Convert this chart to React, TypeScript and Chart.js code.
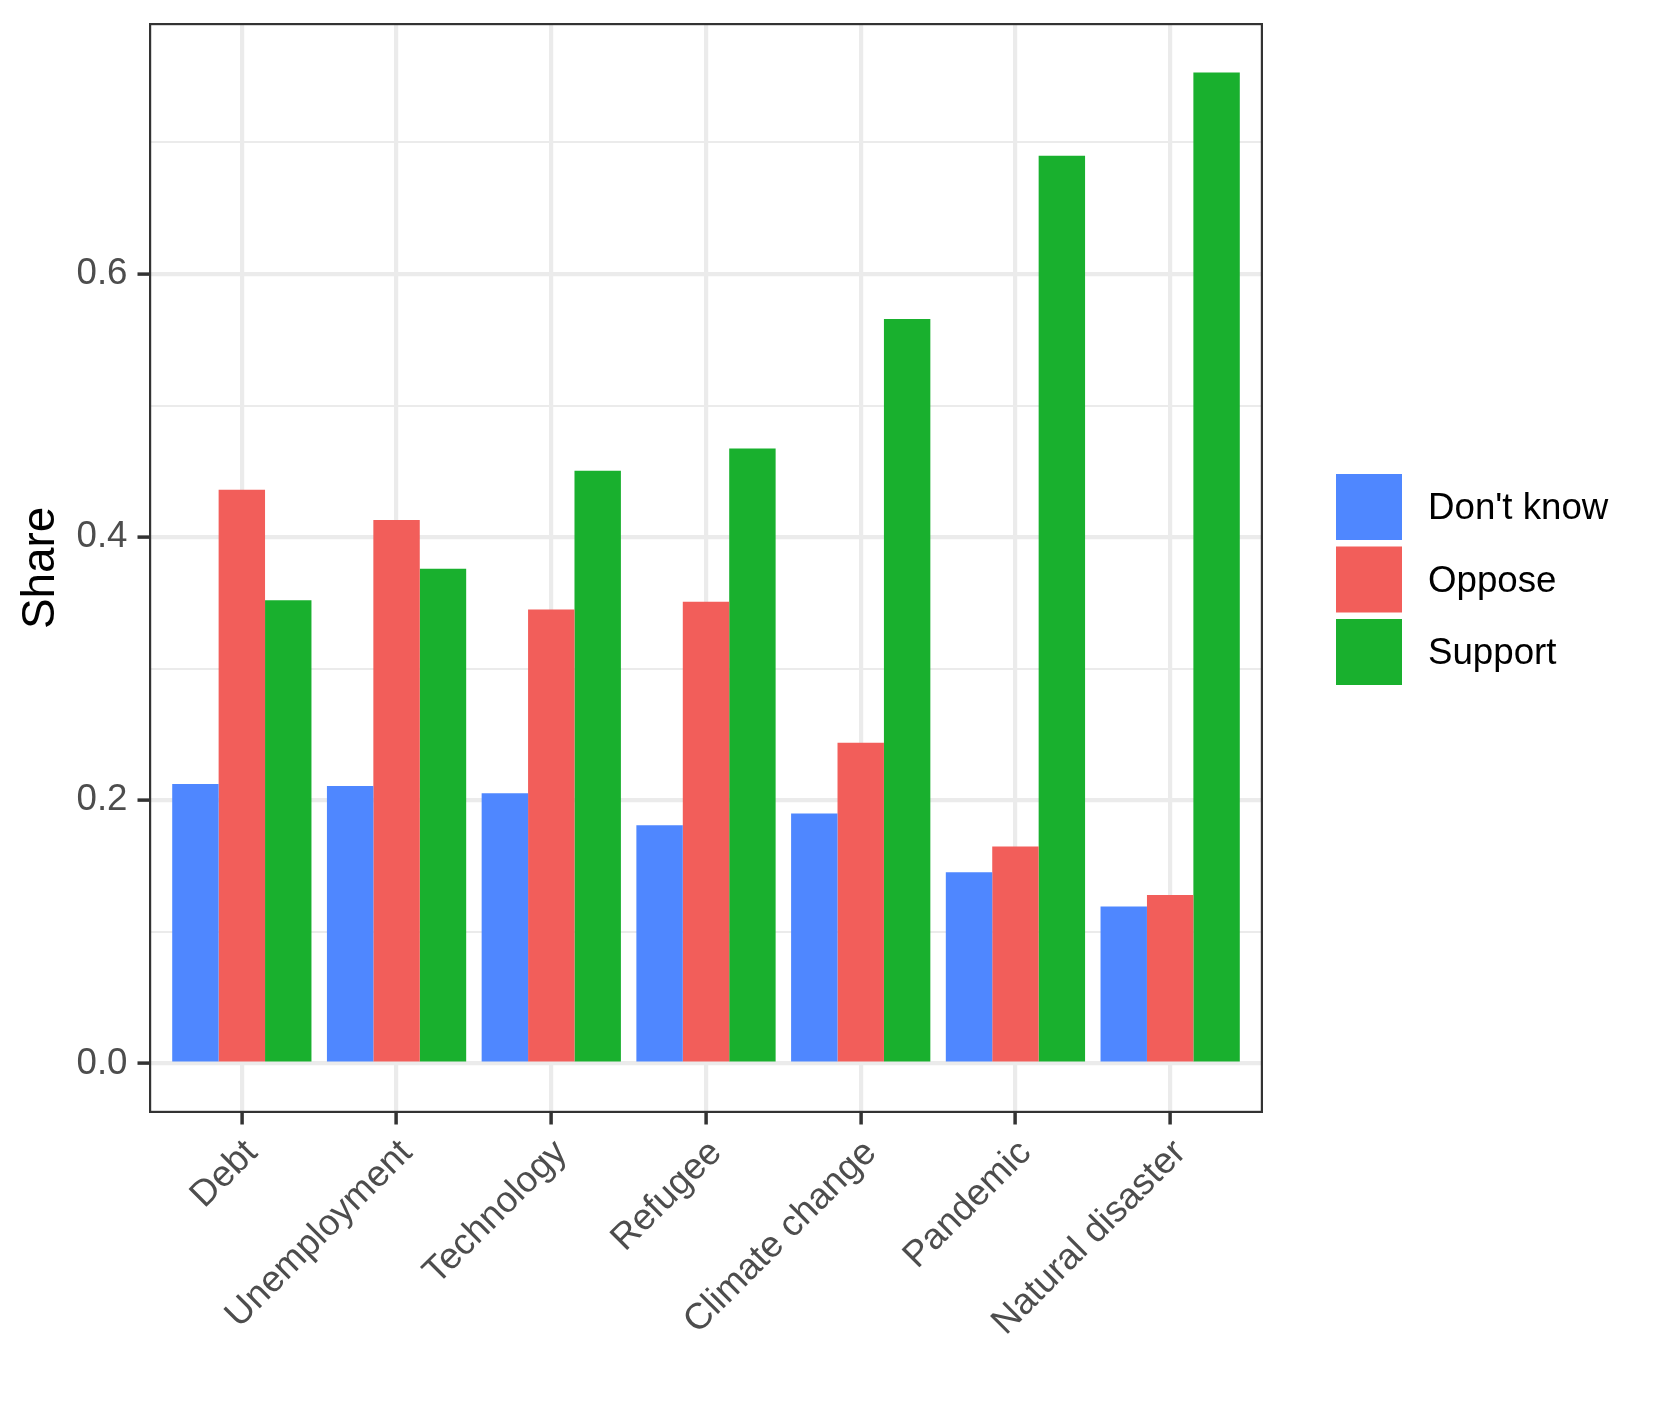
import React, { useEffect, useRef } from "react";
import { Chart, registerables } from "chart.js";

Chart.register(...registerables);

// ---- data ----
const categories = [
  "Debt",
  "Unemployment",
  "Technology",
  "Refugee",
  "Climate change",
  "Pandemic",
  "Natural disaster",
];
const seriesNames = ["Don't know", "Oppose", "Support"];
const dontKnow = [0.2124, 0.211, 0.2054, 0.181, 0.19, 0.1454, 0.1193];
const oppose = [0.436, 0.413, 0.345, 0.351, 0.2438, 0.1649, 0.128];
const support = [0.352, 0.376, 0.4505, 0.4674, 0.5658, 0.69, 0.7532];
const seriesColors = ["#4F87FF", "#F25E5A", "#19B02E"];
const yMajorTicks = [0, 0.2, 0.4, 0.6];
const yMajorLabels = ["0.0", "0.2", "0.4", "0.6"];
const yMinorTicks = [0.1, 0.3, 0.5, 0.7];
const yAxisTitle = "Share";

// ---- layout constants ----
const W = 1653;
const H = 1417;
const PANEL_LEFT = 149;
const PANEL_TOP = 23;
const PANEL_RIGHT = 1263;
const PANEL_BOTTOM = 1113;
const FONT = "'Liberation Sans', Arial, Helvetica, sans-serif";

const isMajor = (v: number) => yMajorTicks.some((m) => Math.abs(m - v) < 1e-9);

export default function App() {
  const ref = useRef<HTMLCanvasElement>(null);

  useEffect(() => {
    const canvas = ref.current;
    if (!canvas) return;
    const series = [dontKnow, oppose, support];

    const panelBorder = {
      id: "panelBorder",
      afterDatasetsDraw(chart: any) {
        const { ctx, chartArea: a } = chart;
        ctx.save();
        ctx.strokeStyle = "#333333";
        ctx.lineWidth = 2.2;
        ctx.strokeRect(a.left + 1.1, a.top + 1.1, a.right - a.left - 2.2, a.bottom - a.top - 2.2);
        ctx.restore();
      },
    };

    const customLegend = {
      id: "customLegend",
      afterDraw(chart: any) {
        const { ctx, chartArea: a } = chart;
        const keyX = a.right + 73;
        const keySize = 66;
        const step = 72.5;
        const top = 474;
        ctx.save();
        ctx.font = `36.7px ${FONT}`;
        ctx.textBaseline = "middle";
        ctx.textAlign = "left";
        seriesNames.forEach((name, i) => {
          const y = top + i * step;
          ctx.fillStyle = seriesColors[i];
          ctx.fillRect(keyX, y, keySize, keySize);
          ctx.fillStyle = "#000000";
          ctx.fillText(name, keyX + keySize + 26, y + keySize / 2 + 2);
        });
        ctx.restore();
      },
    };

    const chart = new Chart(canvas, {
      type: "bar",
      data: {
        datasets: series.map((vals, i) => ({
          label: seriesNames[i],
          data: vals.map((v, j) => ({ x: j + 1, y: v })),
          backgroundColor: seriesColors[i],
          borderWidth: 0,
          categoryPercentage: 0.9,
          barPercentage: 1.0,
        })),
      },
      options: {
        responsive: false,
        animation: false,
        devicePixelRatio: 1,
        layout: { padding: { top: PANEL_TOP, right: W - PANEL_RIGHT, bottom: 0, left: 0 } },
        plugins: {
          legend: { display: false },
          tooltip: { enabled: false },
          title: { display: false },
        },
        scales: {
          x: {
            type: "linear",
            min: 0.4,
            max: categories.length + 0.6,
            offset: false,
            bounds: "data",
            afterBuildTicks: (s: any) => {
              s.ticks = categories.map((_, j) => ({ value: j + 1 }));
            },
            afterFit: (s: any) => {
              s.height = H - PANEL_BOTTOM;
              s.paddingLeft = 0;
              s.paddingRight = 0;
            },
            grid: {
              offset: false,
              color: "#EBEBEB",
              lineWidth: 4.2,
              drawTicks: true,
              tickLength: 11.5,
              tickColor: "#333333",
              tickWidth: 3.5,
            },
            border: { display: false },
            ticks: {
              autoSkip: false,
              minRotation: 45,
              maxRotation: 45,
              padding: 7,
              labelOffset: 10,
              color: "#4D4D4D",
              font: { family: FONT, size: 36.7 },
              callback: (v: any) => categories[Math.round(Number(v)) - 1] ?? "",
            },
          },
          y: {
            type: "linear",
            min: -0.0376,
            max: 0.7908,
            bounds: "data",
            afterBuildTicks: (s: any) => {
              s.ticks = [...yMajorTicks, ...yMinorTicks]
                .sort((a, b) => a - b)
                .map((v) => ({ value: v }));
            },
            afterFit: (s: any) => {
              s.width = PANEL_LEFT;
              s.paddingTop = 0;
              s.paddingBottom = 0;
            },
            grid: {
              color: "#EBEBEB",
              lineWidth: (c: any) => (c.tick && isMajor(c.tick.value) ? 4.2 : 2.1),
              drawTicks: true,
              tickLength: 11.5,
              tickColor: (c: any) => (c.tick && isMajor(c.tick.value) ? "#333333" : "rgba(0,0,0,0)"),
              tickWidth: 3.5,
            },
            border: { display: false },
            ticks: {
              padding: 10,
              color: "#4D4D4D",
              font: { family: FONT, size: 36.7 },
              callback: (v: any) => {
                const idx = yMajorTicks.findIndex((m) => Math.abs(m - Number(v)) < 1e-9);
                return idx >= 0 ? yMajorLabels[idx] : "";
              },
            },
            title: {
              display: true,
              text: yAxisTitle,
              color: "#000000",
              font: { family: FONT, size: 45.8 },
              padding: { top: 14, bottom: 0 },
            },
          },
        },
      },
      plugins: [panelBorder, customLegend],
    } as any);

    return () => chart.destroy();
  }, []);

  return (
    <div style={{ position: "absolute", left: 0, top: 0, width: W, height: H, background: "#ffffff" }}>
      <canvas ref={ref} width={W} height={H} style={{ display: "block", width: W, height: H }} />
    </div>
  );
}
